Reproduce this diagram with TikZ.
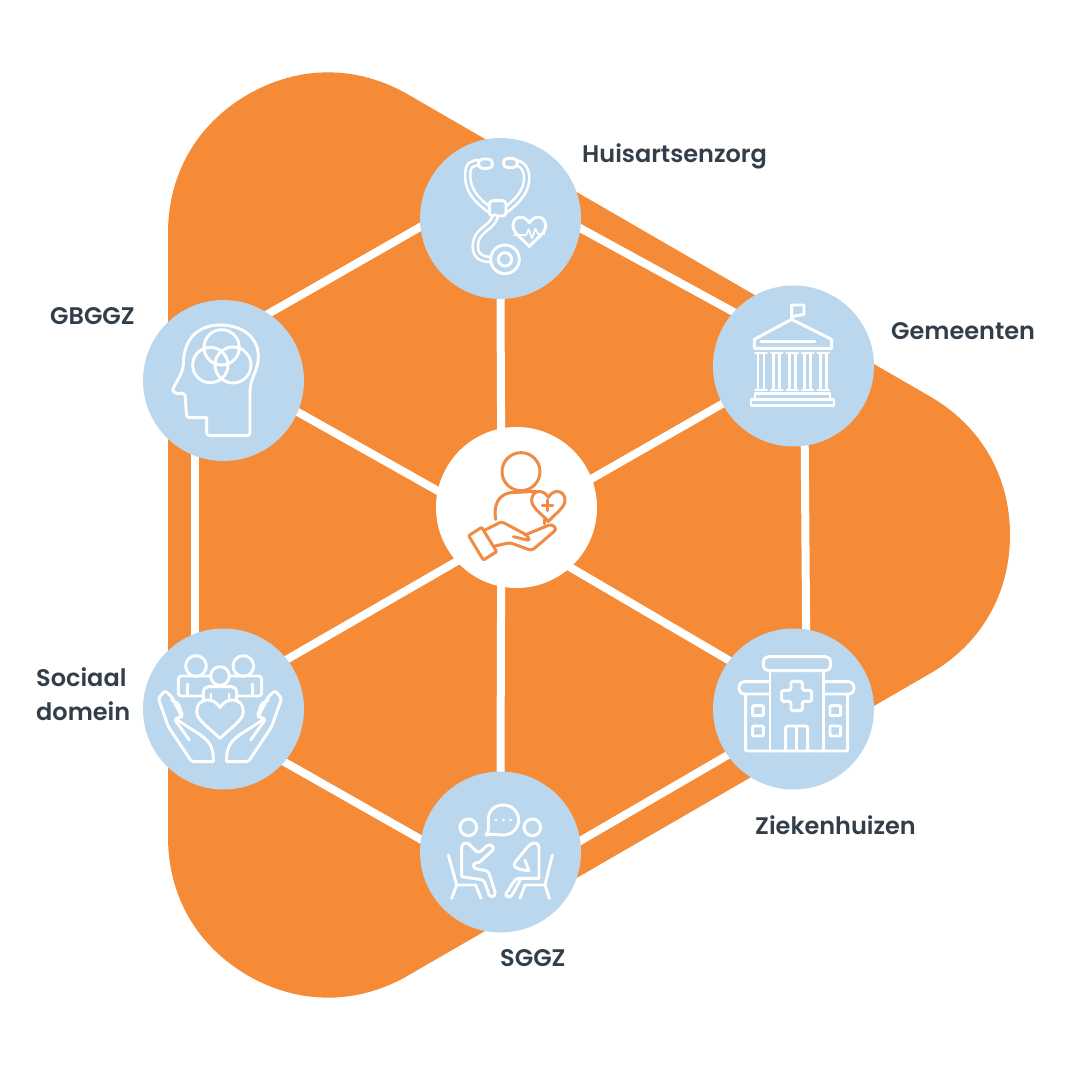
\documentclass[tikz,border=0pt]{standalone}
\usepackage{fontspec}
\setmainfont{Poppins SemiBold}
\usetikzlibrary{backgrounds}
\definecolor{shapeorange}{HTML}{F58B36}
\definecolor{iconorange}{HTML}{F08A45}
\definecolor{circleblue}{HTML}{BBD7ED}
\definecolor{labelgrey}{HTML}{323F4B}
\tikzset{
	partner/.style={circle,fill=circleblue,minimum size=161pt,inner sep=0pt},
	client/.style={circle,fill=white,minimum size=161pt,inner sep=0pt},
	link/.style={white,line width=8pt,shorten >=-4pt,shorten <=-4pt},
	iconline/.style={white,line width=2.9pt,line join=round,line cap=round},
	caring/.style={iconorange,line width=3pt,line join=round,line cap=round},
	tube/.style={white,line width=2.6pt,double=circleblue,double distance=2.6pt,line cap=round},
	partnerlabel/.style={text=labelgrey,font=\fontsize{24}{34}\selectfont,inner sep=0pt,align=left},
	heart/.pic={\draw[pic actions] (0,-0.6) .. controls (0.15,-0.85) and (0.35,-0.95) .. (0.55,-0.95) .. controls (0.85,-0.95) and (1,-0.7) .. (1,-0.4) .. controls (1,0) and (0.4,0.4) .. (0,0.85) .. controls (-0.4,0.4) and (-1,0) .. (-1,-0.4) .. controls (-1,-0.7) and (-0.85,-0.95) .. (-0.55,-0.95) .. controls (-0.35,-0.95) and (-0.15,-0.85) .. (0,-0.6) -- cycle;}
}
\begin{document}
\begin{tikzpicture}[x=1pt,y=-1pt]
	\useasboundingbox (0,0) rectangle (1080,1080);

	% circles
	\node[partner] (huisarts) at (500.5,218.5) {};
	\node[partner] (gemeenten) at (793.5,366) {};
	\node[partner] (ziekenhuizen) at (793.5,709) {};
	\node[partner] (sggz) at (500.5,852) {};
	\node[partner] (sociaal) at (223.5,709) {};
	\node[partner] (gbggz) at (223.5,380.5) {};
	\node[client] (zorg) at (516.5,507.5) {};

	\begin{scope}[on background layer]
		% orange shape
		\draw[shapeorange,fill=shapeorange,line width=320pt,line join=round] (328,233) -- (850,535) -- (328,837) -- cycle;

		% outer ring
		\draw[link] (huisarts.-7) -- (gemeenten.138);
		\draw[link] (gemeenten.-82) -- (ziekenhuizen.81);
		\draw[link] (ziekenhuizen.215) -- (sggz.8);
		\draw[link] (sggz.171.5) -- (sociaal.-41.8);
		\draw[link] (sociaal.111) -- (gbggz.-111.5);
		\draw[link] (gbggz.56) -- (huisarts.186);

		% spokes
		\draw[link] (huisarts.-90) -- (zorg.101.8);
		\draw[link] (gemeenten.208.5) -- (zorg.21);
		\draw[link] (ziekenhuizen.143) -- (zorg.-48.6);
		\draw[link] (sggz.90) -- (zorg.-101.8);
		\draw[link] (sociaal.38) -- (zorg.222.7);
		\draw[link] (gbggz.-23) -- (zorg.168);
	\end{scope}

	% labels
	\node[partnerlabel,anchor=base west] (lhuisarts) at (582,162) {Huisartsenzorg};
	\node[partnerlabel,anchor=base west] (lgemeenten) at (891,339) {Gemeenten};
	\node[partnerlabel,anchor=base west] (lziekenhuizen) at (755,834) {Ziekenhuizen};
	\node[partnerlabel,anchor=base west] (lsggz) at (500,966) {SGGZ};
	\node[partnerlabel,anchor=base west] (lgbggz) at (50,324) {GBGGZ};
	\node[partnerlabel,anchor=base west] (lsociaal) at (36,686) {Sociaal};
	\node[partnerlabel,anchor=base west] (ldomein) at (36,720) {domein};

	% stethoscope
	\begin{scope}[shift={(410,130)},x=0.3333pt,y=-0.3333pt]
		\draw[tube] (212,100) .. controls (185,95) and (172,105) .. (173,140) .. controls (174,185) and (205,215) .. (240,240);
		\draw[tube] (296,100) .. controls (330,92) and (350,110) .. (350,145) .. controls (350,185) and (320,215) .. (287,240);
		\draw[iconline,fill=circleblue,rounded corners=4.5] (205,87) rectangle (248,115);
		\draw[iconline,fill=circleblue,rounded corners=4.5] (280,85) rectangle (322,113);
		\draw[iconline,fill=circleblue,rounded corners=3.5] (238,212) rectangle (288,258);
		\draw[tube] (255,262) .. controls (245,295) and (195,300) .. (196,350) .. controls (196,385) and (225,390) .. (255,388);
		\draw[iconline,fill=circleblue] (285,388) circle (43);
		\draw[iconline] (285,388) circle (20);
		\pic[iconline,scale=49] at (358,308) {heart};
		\draw[iconline,line width=1.6pt] (312,315) -- (348,315) -- (356,298) -- (366,325) -- (376,296) -- (384,312) -- (404,312);
	\end{scope}

	% head with rings
	\begin{scope}[shift={(135,295)},x=0.3333pt,y=-0.3333pt]
		\draw[iconline,rounded corners=3] (215,368) -- (215,422) -- (345,422) -- (345,285);
		\draw[iconline] (345,285) .. controls (348,245) and (370,225) .. (370,185) .. controls (370,125) and (320,90) .. (255,90) .. controls (190,90) and (147,130) .. (145,205) .. controls (145,235) and (125,255) .. (113,285);
		\draw[iconline,rounded corners=2] (113,285) -- (118,295) -- (150,295) -- (155,368) -- (215,368);
		\draw[iconline] (260,157) circle (53);
		\draw[iconline] (226,210) circle (53);
		\draw[iconline] (294,210) circle (54);
	\end{scope}

	% town hall
	\begin{scope}[shift={(705,280)},x=0.3333pt,y=-0.3333pt]
		\draw[iconline] (260,118) -- (380,178) -- (380,205) -- (148,205) -- (148,178) -- cycle;
		\draw[iconline] (168,185) -- (330,185);
		\draw[iconline] (260,118) -- (260,75) -- (297,75) -- (297,103) -- (260,110);
		\foreach \colx in {168,215,262,308,355}{
			\draw[iconline] (\colx-17,219) -- (\colx+17,219);
			\draw[iconline] (\colx-9,219) -- (\colx-9,330);
			\draw[iconline] (\colx+9,219) -- (\colx+9,330);
			\draw[iconline] (\colx-17,330) -- (\colx+17,330);
		}
		\draw[iconline] (150,358) -- (150,340) -- (375,340) -- (375,358);
		\draw[iconline] (138,358) rectangle (387,376);
	\end{scope}

	% hospital
	\begin{scope}[shift={(705,620)},x=0.3333pt,y=-0.3333pt]
		\draw[iconline,rounded corners=5] (175,110) rectangle (377,152);
		\draw[iconline] (195,152) -- (195,393);
		\draw[iconline] (355,152) -- (355,393);
		\draw[iconline,rounded corners=5] (195,222) -- (102,222) -- (102,185) -- (195,185);
		\draw[iconline,rounded corners=5] (355,222) -- (447,222) -- (447,185) -- (355,185);
		\draw[iconline,rounded corners=1] (122,222) -- (122,393) -- (428,393) -- (428,222);
		\draw[iconline,rounded corners=1.5] (258,184) -- (292,184) -- (292,211) -- (320,211) -- (320,244) -- (292,244) -- (292,272) -- (258,272) -- (258,244) -- (230,244) -- (230,211) -- (258,211) -- cycle;
		\draw[iconline,rounded corners=1] (143,257) rectangle (175,287);
		\draw[iconline,rounded corners=1] (143,318) rectangle (175,348);
		\draw[iconline,rounded corners=1] (375,257) rectangle (407,287);
		\draw[iconline,rounded corners=1] (375,318) rectangle (407,348);
		\draw[iconline,rounded corners=2] (242,393) -- (242,318) -- (308,318) -- (308,393);
		\draw[iconline] (275,318) -- (275,393);
	\end{scope}

	% two people talking
	\begin{scope}[shift={(410,765)},x=0.3333pt,y=-0.3333pt]
		\draw[iconline] (175,187) circle (25);
		\draw[iconline] (367,187) circle (25);
		\draw[iconline] (228,210) .. controls (238,195) and (236,185) .. (235,165) .. controls (235,135) and (255,120) .. (280,120) .. controls (305,120) and (326,140) .. (326,165) .. controls (326,190) and (305,210) .. (280,210) .. controls (265,210) and (255,205) .. (228,210) -- cycle;
		\foreach \dotx in {258,280,302}{
			\fill[white] (\dotx,165) circle (4.5);
		}
		% left person
		\draw[iconline,rounded corners=3] (155,335) -- (155,238) -- (172,232) -- (205,265) -- (238,236) -- (254,250) -- (205,295) -- (190,293) -- (190,310) -- (235,318) -- (258,390) -- (240,398) -- (222,345) -- (155,335);
		\draw[iconline] (115,270) -- (140,360) -- (125,400);
		\draw[iconline] (140,360) -- (197,360) -- (213,400);
		% right person
		\draw[iconline,rounded corners=3] (387,340) -- (387,238) -- (370,232) -- (355,243) -- (310,298) -- (318,310) -- (355,318);
		\draw[iconline,rounded corners=3] (387,340) -- (318,340) -- (284,392) -- (302,398) -- (330,347);
		\draw[iconline] (345,285) -- (357,318);
		\draw[iconline] (427,270) -- (405,360) -- (418,400);
		\draw[iconline] (405,360) -- (345,360) -- (330,400);
	\end{scope}

	% family in hands
	\begin{scope}[shift={(135,620)},x=0.3333pt,y=-0.3333pt]
		\draw[iconline] (183,138) circle (31);
		\draw[iconline] (325,138) circle (31);
		\draw[iconline] (255,168) circle (28);
		\draw[iconline,rounded corners=3] (205,228) -- (130,228) -- (130,168) -- (228,168);
		\draw[iconline,rounded corners=3] (305,228) -- (380,228) -- (380,168) -- (284,168);
		\draw[iconline] (157,192) -- (157,228);
		\draw[iconline] (353,192) -- (353,228);
		\draw[iconline,rounded corners=5] (205,245) -- (205,200) -- (305,200) -- (305,245);
		\draw[iconline] (228,222) -- (228,240);
		\draw[iconline] (282,222) -- (282,240);
		\pic[iconline,scale=70,yscale=0.92] at (255,301) {heart};
		\foreach \side in {1,-1}{
			\begin{scope}[shift={(255,0)},xscale=\side]
				\draw[iconline,rounded corners=2.5] (-20,425) -- (-85,425) -- (-155,320) -- (-185,235) -- (-165,212) -- (-145,230) -- (-115,290);
				\draw[iconline,rounded corners=2] (-145,240) -- (-125,250) -- (-112,290) -- (-135,295) -- (-90,325);
				\draw[iconline] (-90,325) .. controls (-40,355) and (-18,370) .. (-20,425);
				\draw[iconline] (-135,300) -- (-92,360);
			\end{scope}
		}
	\end{scope}

	% person in caring hand
	\begin{scope}[shift={(430,420)},x=0.3333pt,y=-0.3333pt]
		\draw[caring] (273,155) circle (57);
		\draw[caring] (240,218) .. controls (205,225) and (190,255) .. (197,298);
		\draw[caring] (240,218) -- (318,214);
		\draw[caring] (345,298) -- (345,312);
		\pic[caring,scale=50] at (355,262) {heart};
		\draw[caring] (353,240) -- (353,272);
		\draw[caring] (337,256) -- (369,256);
		\draw[caring,rounded corners=1] (116,347) -- (155,322) -- (200,395) -- (160,420) -- cycle;
		\draw[caring,rounded corners=2.5] (165,330) -- (215,305) -- (290,345) -- (300,362) -- (250,350);
		\draw[caring,rounded corners=3] (285,345) -- (365,312) -- (380,328) -- (305,392) -- (240,368) -- (195,378);
	\end{scope}
\end{tikzpicture}
\end{document}
